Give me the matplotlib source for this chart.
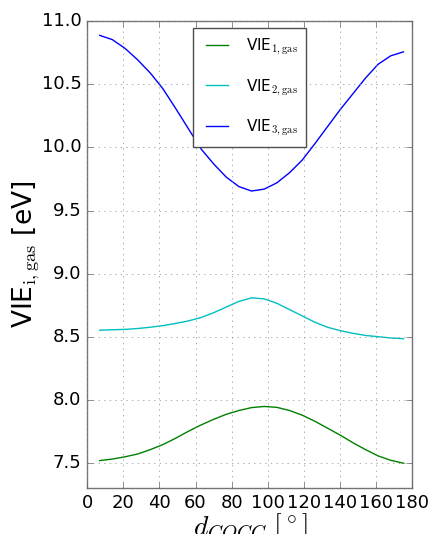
import matplotlib
matplotlib.use("Agg")
import matplotlib.pyplot as plt

plt.style.use('classic')
plt.rcParams['mathtext.fontset'] = 'cm'
plt.rcParams['mathtext.rm'] = 'serif'

angle = [7, 14, 21, 28, 35, 42, 49, 56, 63, 70, 77, 84, 91,
         98, 105, 112, 119, 126, 133, 140, 147, 154, 161, 168, 175]

vie1 = [7.518, 7.530, 7.548, 7.570, 7.605, 7.645, 7.695, 7.750, 7.800,
        7.845, 7.885, 7.915, 7.938, 7.947, 7.940, 7.915, 7.878, 7.830,
        7.775, 7.720, 7.660, 7.605, 7.555, 7.520, 7.497]

vie2 = [8.552, 8.555, 8.558, 8.565, 8.575, 8.588, 8.605, 8.625, 8.652,
        8.690, 8.735, 8.780, 8.808, 8.800, 8.765, 8.715, 8.665, 8.615,
        8.575, 8.548, 8.527, 8.510, 8.500, 8.490, 8.484]

vie3 = [10.889, 10.855, 10.786, 10.695, 10.590, 10.465, 10.310, 10.150, 9.990,
        9.870, 9.765, 9.690, 9.655, 9.670, 9.720, 9.800, 9.900, 10.030,
        10.165, 10.300, 10.425, 10.550, 10.660, 10.727, 10.758]

fig = plt.figure(figsize=(4.31, 5.34), dpi=100, facecolor='white')
ax = fig.add_axes([0.202, 0.086, 0.755, 0.874])

ax.plot(angle, vie1, c='g', label=r'VIE$_\mathrm{1,gas}$')
ax.plot(angle, vie2, c='c', label=r'VIE$_\mathrm{2,gas}$')
ax.plot(angle, vie3, c='b', label=r'VIE$_\mathrm{3,gas}$')

ax.set_xlim(0, 180)
ax.set_ylim(7.3, 11.0)
ax.set_xticks(range(0, 181, 20))
ax.set_yticks([7.5, 8.0, 8.5, 9.0, 9.5, 10.0, 10.5, 11.0])
ax.tick_params(labelsize=13, color='0.4')
ax.grid(True, color='0.55')
for s in ax.spines.values():
    s.set_edgecolor('0.45')

ax.set_xlabel(r'$d_{COCC}\ [^\circ]$', fontsize=20, labelpad=0)
ax.set_ylabel(r'VIE$_\mathrm{i,gas}$ [eV]', fontsize=19, labelpad=0)

leg = ax.legend(loc='upper center', fontsize=11, labelspacing=1.35,
                borderpad=0.55, handletextpad=0.9, borderaxespad=0.45)
leg.get_frame().set_edgecolor('0.3')

fig.savefig('out.png', dpi=100, facecolor='white')
